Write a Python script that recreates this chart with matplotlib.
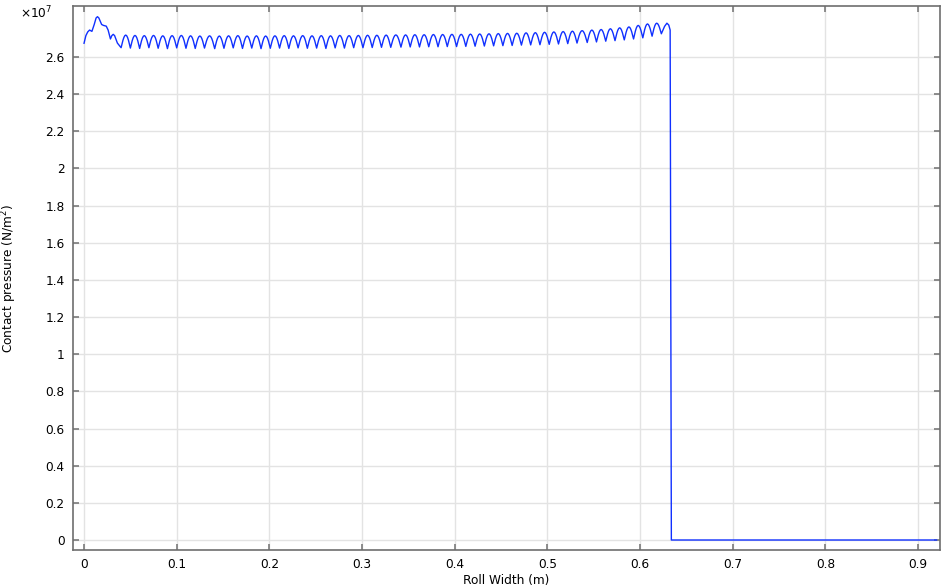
"""
Contact pressure along the roll width (scalloped profile, then drop to zero).
Writes out.png (947x587 px).
"""
import matplotlib
matplotlib.use("Agg")
import matplotlib.pyplot as plt
from matplotlib.ticker import FormatStrFormatter

# ─── Data (pressure in units of 1e7 N/m^2) ───────────────────────────────────

# irregular edge region near x = 0
head_x = [0.000, 0.002, 0.004, 0.006, 0.0085, 0.011, 0.013, 0.0145, 0.016,
          0.019, 0.021, 0.024, 0.026, 0.0285, 0.030, 0.0315, 0.033, 0.036]
head_p = [2.674, 2.715, 2.735, 2.745, 2.738, 2.775, 2.810, 2.817, 2.810,
          2.775, 2.770, 2.766, 2.745, 2.697, 2.715, 2.722, 2.715, 2.675]

# cusp (trough) positions of the periodic scallops
trough_x = [0.040, 0.050, 0.060, 0.070, 0.080, 0.090, 0.100, 0.110, 0.120, 0.130,
            0.141, 0.151, 0.161, 0.171, 0.181, 0.191, 0.201, 0.211, 0.221, 0.231,
            0.241, 0.251, 0.261, 0.271, 0.281, 0.291, 0.301, 0.311, 0.321, 0.331,
            0.342, 0.352, 0.362, 0.372, 0.382, 0.392, 0.402, 0.412, 0.422, 0.432,
            0.442, 0.452, 0.462, 0.472, 0.482, 0.492, 0.502, 0.512, 0.522, 0.532,
            0.543, 0.553, 0.563, 0.573, 0.583, 0.593, 0.603, 0.613, 0.623]
trough_p = [2.650, 2.648, 2.646, 2.650, 2.647, 2.645, 2.649, 2.647, 2.646, 2.648,
            2.645, 2.647, 2.649, 2.646, 2.648, 2.645, 2.647, 2.648, 2.646, 2.649,
            2.647, 2.648, 2.646, 2.649, 2.648, 2.650, 2.650, 2.651, 2.652, 2.652,
            2.653, 2.654, 2.654, 2.655, 2.655, 2.656, 2.656, 2.657, 2.658, 2.659,
            2.660, 2.661, 2.662, 2.664, 2.665, 2.666, 2.668, 2.670, 2.672, 2.675,
            2.678, 2.681, 2.685, 2.688, 2.692, 2.697, 2.703, 2.712, 2.725]
# crest value of each scallop (between trough k and k+1)
peak_p = [2.718, 2.716, 2.715, 2.716, 2.714, 2.715, 2.716, 2.714, 2.713, 2.714,
          2.713, 2.714, 2.715, 2.713, 2.714, 2.713, 2.714, 2.715, 2.714, 2.715,
          2.714, 2.715, 2.714, 2.716, 2.715, 2.716, 2.717, 2.717, 2.718, 2.719,
          2.719, 2.720, 2.720, 2.721, 2.721, 2.722, 2.722, 2.723, 2.724, 2.725,
          2.726, 2.727, 2.728, 2.730, 2.731, 2.733, 2.735, 2.737, 2.739, 2.742,
          2.745, 2.748, 2.752, 2.757, 2.762, 2.770, 2.778, 2.782]
# shape of one scallop (fraction of crest height, sharp cusps at both ends)
scallop_t     = [0.0, 0.1, 0.2, 0.3, 0.4, 0.5, 0.6, 0.7, 0.8, 0.9, 1.0]
scallop_shape = [0.0, 0.31, 0.59, 0.81, 0.95, 1.0, 0.95, 0.81, 0.59, 0.31, 0.0]

# last partial scallop, edge drop and the unloaded part of the roll
tail_x = [0.6265, 0.629, 0.631, 0.6325, 0.6338, 0.920]
tail_p = [2.765, 2.782, 2.772, 2.745, 0.000, 0.000]

x_ticks = [0, 0.1, 0.2, 0.3, 0.4, 0.5, 0.6, 0.7, 0.8, 0.9]
y_ticks = [0, 0.2, 0.4, 0.6, 0.8, 1.0, 1.2, 1.4, 1.6, 1.8, 2.0, 2.2, 2.4, 2.6]


# ─── Assemble the curve ──────────────────────────────────────────────────────

xs = list(head_x)
ps = list(head_p)
for k in range(len(peak_p)):
    x0, x1 = trough_x[k], trough_x[k + 1]
    for t, s in zip(scallop_t[:-1], scallop_shape[:-1]):
        base = trough_p[k] if t <= 0.5 else trough_p[k + 1]
        xs.append(x0 + t * (x1 - x0))
        ps.append(base + s * (peak_p[k] - base))
xs.append(trough_x[-1])
ps.append(trough_p[-1])
xs += tail_x
ps += tail_p


# ─── Figure ──────────────────────────────────────────────────────────────────

plt.rcParams["font.family"] = ["DejaVu Sans"]
fig = plt.figure(figsize=(9.47, 5.87), dpi=100)
ax = fig.add_axes([73 / 947, 37 / 587, 867 / 947, 544 / 587])

ax.plot(xs, ps, color="#1030ff", lw=1.0, zorder=3)

ax.set_xlim(-0.0119, 0.9237)
ax.set_ylim(-0.0538, 2.8745)
ax.set_xticks(x_ticks)
ax.set_yticks(y_ticks)
ax.xaxis.set_major_formatter(FormatStrFormatter("%g"))
ax.yaxis.set_major_formatter(FormatStrFormatter("%g"))
ax.grid(True, color="#e3e3e3", lw=1.0, zorder=0)
ax.tick_params(direction="in", length=4, width=1.2, color="#7a7a7a",
               top=True, right=True, labelsize=8.7, pad=6)
for sp in ax.spines.values():
    sp.set_color("#6e6e6e")
    sp.set_linewidth(1.2)

ax.set_xlabel("Roll Width (m)", fontsize=8.7, labelpad=2)
ax.set_ylabel("Contact pressure (N/m$^2$)", fontsize=8.7)
ax.yaxis.set_label_coords(-54 / 867, 0.5)
fig.text(20 / 947, 1 - 13 / 587, r"$\times$10$^7$", fontsize=8.7,
         ha="left", va="center")

fig.savefig("out.png", dpi=100)
plt.close(fig)
